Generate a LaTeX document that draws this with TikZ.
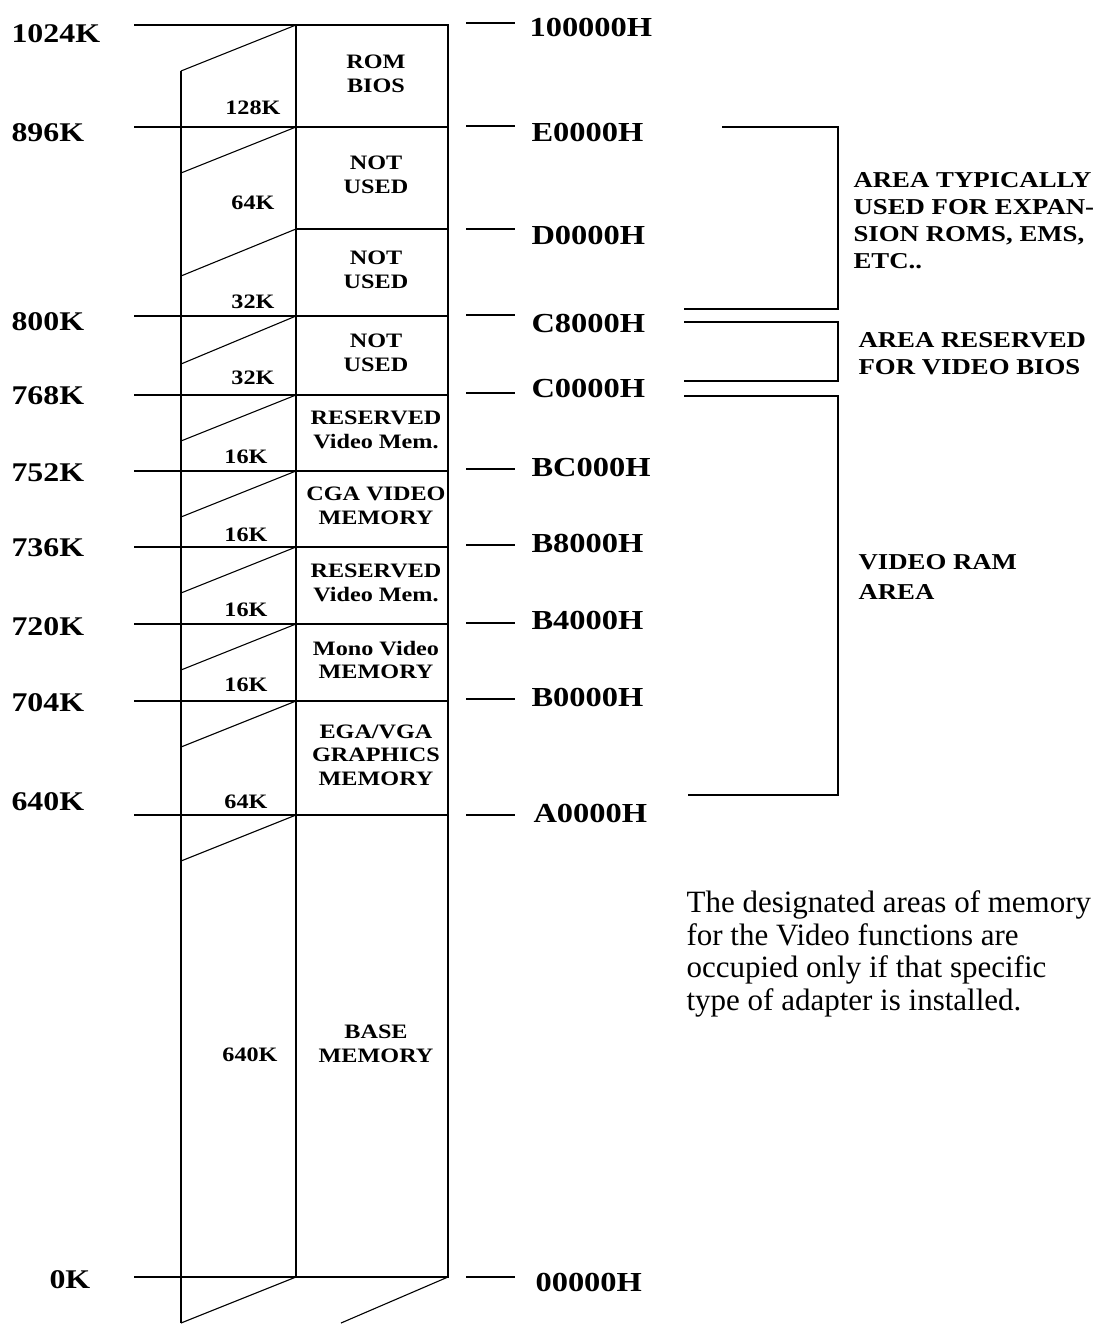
\documentclass[tikz,border=0pt]{standalone}
\usepackage{fontspec}
\setmainfont{Liberation Serif}[FakeStretch=1.18]
\newfontfamily\notefont{Liberation Serif}
\usepackage{tikz}
\usetikzlibrary{positioning}

\begin{document}
\begin{tikzpicture}[x=1pt, y=-1pt, line width=1.1pt, inner sep=0pt,
    klabel/.style={anchor=west, font=\bfseries\fontsize{27}{30}\selectfont},
    hexlabel/.style={anchor=west, font=\bfseries\fontsize{27.5}{30}\selectfont},
    sizelabel/.style={anchor=east, font=\bfseries\fontsize{20.5}{22}\selectfont},
    blocklabel/.style={align=center, font=\bfseries\fontsize{20.5}{23.5}\selectfont},
    arealabel/.style={anchor=west, align=left, font=\bfseries\fontsize{22.7}{27}\selectfont}]
    \useasboundingbox (0,0) rectangle (1099,1324);

    % 1. Cot bo nho
    \draw (181,71) -- (181,1323);
    \draw (296,25) rectangle (448,1277);

    % 2. Cac duong ranh gioi
    \draw (134,25) -- (448,25);
    \draw (134,127) -- (448,127);
    \draw (296,229) -- (448,229);
    \draw (134,316) -- (448,316);
    \draw (134,395) -- (448,395);
    \draw (134,471) -- (448,471);
    \draw (134,547) -- (448,547);
    \draw (134,624) -- (448,624);
    \draw (134,701) -- (448,701);
    \draw (134,815) -- (448,815);
    \draw (134,1277) -- (448,1277);

    % 3. Duong xien
    \draw (296,25) -- (181,71);
    \draw (296,127) -- (181,173);
    \draw (296,229) -- (181,276);
    \draw (296,316) -- (181,364);
    \draw (296,395) -- (181,441);
    \draw (296,471) -- (181,517);
    \draw (296,547) -- (181,593);
    \draw (296,624) -- (181,670);
    \draw (296,701) -- (181,747);
    \draw (296,815) -- (181,861);
    \draw (296,1277) -- (181,1323);
    \draw (448,1277) -- (341,1323);

    % 4. Vach ben phai
    \draw (466,23) -- (515,23);
    \draw (466,126) -- (515,126);
    \draw (466,229) -- (515,229);
    \draw (466,315) -- (515,315);
    \draw (466,393) -- (515,393);
    \draw (466,469) -- (515,469);
    \draw (466,545) -- (515,545);
    \draw (466,623) -- (515,623);
    \draw (466,699) -- (515,699);
    \draw (466,815) -- (515,815);
    \draw (466,1277) -- (515,1277);

    % 5. Ngoac
    \draw (722,127) -- (838,127) -- (838,309) -- (684,309);
    \draw (684,322) -- (838,322) -- (838,381) -- (684,381);
    \draw (684,396) -- (838,396) -- (838,795) -- (688,795);

    % 6. Nhan K
    \node[klabel] (k1024) at (11,34) {1024K};
    \node[klabel] (k896) at (11,133) {896K};
    \node[klabel] (k800) at (11,322) {800K};
    \node[klabel] (k768) at (11,396) {768K};
    \node[klabel] (k752) at (11,473) {752K};
    \node[klabel] (k736) at (11,548) {736K};
    \node[klabel] (k720) at (11,627) {720K};
    \node[klabel] (k704) at (11,703) {704K};
    \node[klabel] (k640) at (11,802) {640K};
    \node[klabel] (k0) at (49,1280) {0K};

    % 7. Nhan dia chi
    \node[hexlabel] (h100000) at (529,27) {100000H};
    \node[hexlabel] (hE0000) at (531,132) {E0000H};
    \node[hexlabel] (hD0000) at (531,235) {D0000H};
    \node[hexlabel] (hC8000) at (531,323) {C8000H};
    \node[hexlabel] (hC0000) at (531,388) {C0000H};
    \node[hexlabel] (hBC000) at (531,467) {BC000H};
    \node[hexlabel] (hB8000) at (531,543) {B8000H};
    \node[hexlabel] (hB4000) at (531,620) {B4000H};
    \node[hexlabel] (hB0000) at (531,697) {B0000H};
    \node[hexlabel] (hA0000) at (533,813) {A0000H};
    \node[hexlabel] (h00000) at (535,1282) {00000H};

    % 8. Kich thuoc
    \node[sizelabel] (s128) at (281,108) {128K};
    \node[sizelabel] (s64a) at (275,203) {64K};
    \node[sizelabel] (s32a) at (275,302) {32K};
    \node[sizelabel] (s32b) at (275,378) {32K};
    \node[sizelabel] (s16a) at (268,457) {16K};
    \node[sizelabel] (s16b) at (268,535) {16K};
    \node[sizelabel] (s16c) at (268,610) {16K};
    \node[sizelabel] (s16d) at (268,685) {16K};
    \node[sizelabel] (s64b) at (268,802) {64K};
    \node[sizelabel, anchor=center] (s640) at (250,1055) {640K};

    % 9. Noi dung cac vung
    \node[blocklabel] (rombios) at (376,74) {ROM\\BIOS};
    \node[blocklabel] (unused1) at (376,175) {NOT\\USED};
    \node[blocklabel] (unused2) at (376,270) {NOT\\USED};
    \node[blocklabel] (unused3) at (376,353) {NOT\\USED};
    \node[blocklabel] (resv1) at (376,430) {RESERVED\\Video Mem.};
    \node[blocklabel] (cga) at (376,506) {CGA VIDEO\\MEMORY};
    \node[blocklabel] (resv2) at (376,583) {RESERVED\\Video Mem.};
    \node[blocklabel] (mono) at (376,660) {Mono Video\\MEMORY};
    \node[blocklabel] (ega) at (376,755) {EGA/VGA\\GRAPHICS\\MEMORY};
    \node[blocklabel] (base) at (376,1044) {BASE\\MEMORY};

    % 10. Chu thich ngoac
    \node[arealabel] (expansion) at (853,221) {AREA TYPICALLY\\USED FOR EXPAN-\\SION ROMS, EMS,\\ETC..};
    \node[arealabel] (videobios) at (858,354) {AREA RESERVED\\FOR VIDEO BIOS};
    \node[arealabel, font=\bfseries\fontsize{22.7}{30}\selectfont] (videoram) at (858,577) {VIDEO RAM\\AREA};

    % 11. Ghi chu
    \node[anchor=west, align=left, font=\notefont\fontsize{31}{32.5}\selectfont] (remark) at (686,954)
        {The designated areas of memory\\for the Video functions are\\occupied only if that specific\\type of adapter is installed.};
\end{tikzpicture}
\end{document}
